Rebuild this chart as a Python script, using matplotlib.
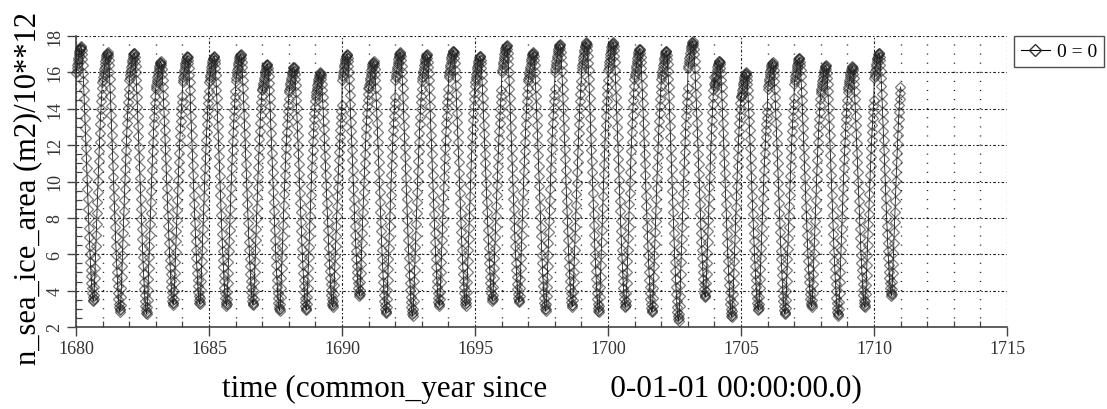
import numpy as np
import matplotlib.pyplot as plt
from matplotlib.ticker import MultipleLocator
from matplotlib.lines import Line2D

plt.rcParams['font.family'] = ['Liberation Serif', 'DejaVu Serif']
plt.rcParams['lines.scale_dashes'] = False

# one value per model year (10**12 m2)
years = list(range(1680, 1711))
peak = [17.43, 17.1, 17.07, 16.6, 16.9, 16.9, 17.0, 16.46, 16.3, 16.0,
        17.0, 16.6, 17.1, 17.0, 17.2, 16.9, 17.5, 17.1, 17.56, 17.65,
        17.65, 17.3, 17.2, 17.7, 16.65, 16.0, 16.55, 16.8, 16.4, 16.33, 17.07]
trough = [3.42, 2.85, 2.72, 3.23, 3.27, 3.18, 3.22, 2.9, 2.94, 3.12,
          3.73, 2.76, 2.63, 3.18, 3.18, 3.45, 3.36, 2.9, 3.12, 2.81,
          3.09, 2.81, 2.35, 3.64, 2.54, 2.94, 2.72, 3.12, 2.63, 3.09, 3.73]

# seasonal shape of one cycle (5-day steps), 0 = yearly minimum, 1 = yearly maximum
season = [0.895, 0.905, 0.915, 0.925, 0.935, 0.945, 0.955, 0.965, 0.973, 0.981,
          0.988, 0.994, 0.998,
          1.000, 0.995, 0.985,
          0.970, 0.950, 0.925, 0.896, 0.864, 0.830, 0.794, 0.757, 0.719, 0.680,
          0.641, 0.601, 0.561, 0.521, 0.481, 0.441, 0.402, 0.363, 0.325, 0.288,
          0.252, 0.217, 0.184, 0.153, 0.124, 0.097, 0.072, 0.050,
          0.031, 0.016, 0.005, 0.000, 0.008,
          0.025, 0.055, 0.092, 0.132, 0.174, 0.217, 0.260, 0.303, 0.346, 0.388,
          0.430, 0.471, 0.511, 0.550, 0.588, 0.625, 0.660, 0.694, 0.726, 0.756,
          0.784, 0.810,
          0.835, 0.860]

shape = np.array(season)
frac = (np.arange(len(shape)) + 0.5) / len(shape)
t = np.concatenate([y + frac for y in years])
v = np.concatenate([lo + shape * (hi - lo) for hi, lo in zip(peak, trough)])

fig = plt.figure(figsize=(11.07, 4.10), dpi=100)
ax = fig.add_axes([76 / 1107, 1 - 328 / 410, 931 / 1107, 291 / 410])

ax.plot(t, v, color='k', lw=0.6, alpha=0.9, zorder=3)
ax.plot(t, v, ls='none', marker='D', ms=5.4, mfc='none', mec='#222222',
        mew=0.9, alpha=0.6, zorder=4, clip_on=False)

ax.set_xlim(1680, 1715)
ax.set_ylim(2, 18)
ax.xaxis.set_major_locator(MultipleLocator(5))
ax.xaxis.set_minor_locator(MultipleLocator(1))
ax.yaxis.set_major_locator(MultipleLocator(2))
ax.yaxis.set_minor_locator(MultipleLocator(0.5))

ax.grid(which='major', color='#222222', lw=0.8, linestyle=(0, (2, 1.5, 1, 1.5)))
ax.grid(which='minor', axis='x', color='#222222', lw=1.0, linestyle=(0, (0.8, 5.748)))

for s in ['top', 'right']:
    ax.spines[s].set_visible(False)
for s in ['left', 'bottom']:
    ax.spines[s].set_color('#444444')
    ax.spines[s].set_linewidth(1.2)

ax.tick_params(which='major', direction='out', length=6.5, width=1.0,
               color='#444444', labelsize=13, labelcolor='#333333', pad=2.5)
ax.tick_params(which='minor', direction='in', length=4, width=0.9, color='#444444')
ax.tick_params(axis='y', labelrotation=90)
for lab in ax.get_yticklabels():
    lab.set_va('center')

ax.set_ylabel('n_sea_ice_area (m2)/10**12', fontsize=22)
ax.yaxis.set_label_coords(-0.036, 0.48)
ax.set_xlabel('time (common_year since        0-01-01 00:00:00.0)', fontsize=22.5)
ax.xaxis.set_label_coords(0.5, -0.16)

handle = Line2D([], [], color='k', lw=0.8, marker='D', ms=6, mfc='none', mec='#333333')
leg = fig.legend([handle], ['0 = 0'], loc='upper left',
                 bbox_to_anchor=(1014 / 1107, 1 - 37 / 410), frameon=True,
                 fancybox=False, edgecolor='#222222', prop={'size': 14},
                 handlelength=1.5, handletextpad=0.35, borderpad=0.35,
                 borderaxespad=0)
leg.get_frame().set_linewidth(1.0)

fig.savefig('out.png', dpi=100)
